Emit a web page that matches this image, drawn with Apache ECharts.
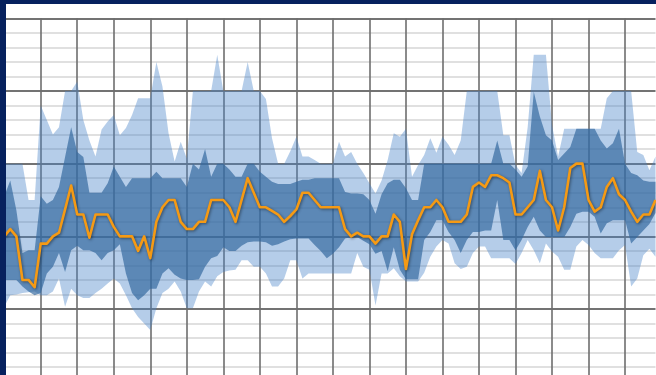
<!DOCTYPE html>
<html>
<head>
<meta charset="utf-8">
<script src="https://cdn.jsdelivr.net/npm/echarts@6/dist/echarts.min.js"></script>
<style>
  html, body { margin: 0; padding: 0; background: #fff; }
  #chart { width: 656px; height: 375px; }
</style>
</head>
<body>
<div id="chart"></div>
<script>
// Sample periods along the horizontal axis (one per observation)
const periods = Array.from({ length: 108 }, (_, i) => String(i + 1));

// Median path
const median = [
  20, 21, 20, 14, 14, 13, 19, 19, 20, 20.5,
  23.7, 27, 23, 23, 19.8, 23, 23, 23, 21.3, 20,
  20, 20, 18, 20, 17, 22, 24, 25, 25, 22,
  21, 21, 22, 22, 25, 25, 25, 24, 22, 25,
  28, 26, 24, 24, 23.5, 23, 22, 22.8, 23.7, 26,
  26, 25, 24, 24, 24, 24, 21, 20, 20.5, 20,
  20, 19, 20, 20, 23, 22, 15.5, 20.3, 22.2, 24,
  24, 25, 24, 22, 22, 22, 23, 26.8, 27.4, 26.8,
  28.4, 28.4, 28, 27.4, 23, 23, 24, 25, 29, 25,
  24, 20.8, 24, 29.4, 30, 30, 25, 23.4, 24, 26.8,
  28, 25.8, 25, 23.4, 22, 23, 23, 25
];

// Outer range (min / max)
const outerHigh = [
  30, 30, 30, 30, 25, 25, 38, 36, 34, 35,
  40, 40, 41.3, 36, 33.2, 31, 34.7, 35.8, 36.7, 33.9,
  34.9, 36.7, 39, 39, 39, 44, 40.6, 34.2, 30.3, 33,
  30.7, 40, 40, 40, 40, 45, 40, 40, 40, 40,
  44, 40, 40, 38.9, 33.5, 30, 30, 31.7, 33.7, 31,
  31, 30.5, 30, 30, 30, 33, 31, 31.6, 30, 28.7,
  27.3, 25.9, 27.7, 30.5, 34.2, 33.7, 34.8, 28.2, 29.8, 31.2,
  33.5, 31.5, 33.7, 32.6, 31.2, 33.2, 40, 40, 40, 40,
  40, 40, 33.9, 33.9, 29.8, 28.7, 35, 45, 45, 45,
  35.3, 31, 34.8, 34.8, 34.8, 34.8, 34.8, 34.8, 34.8, 39,
  40, 40, 40, 40, 31.6, 31.2, 29.1, 31
];
const outerLow = [
  10.3, 11.9, 12, 12.2, 12.3, 12.4, 11.9, 11.9, 12.4, 14.2,
  10.3, 12.8, 11.9, 11.5, 11.5, 12.2, 12.8, 13.5, 14.2, 13.5,
  11.9, 10.1, 8.9, 8, 7.1, 10.1, 12.2, 12.8, 13.8, 12.4,
  10.1, 10.1, 12.4, 13.8, 13.1, 14.5, 15.1, 15.3, 15.4, 16.7,
  16.7, 15.8, 15.8, 14.9, 13.1, 13.1, 14.2, 16.7, 16.7, 14.2,
  14.9, 14.9, 14.9, 14.9, 14.9, 14.9, 14.9, 14.9, 17.7, 15.8,
  15.4, 10.5, 14.9, 14.9, 15.6, 14.5, 13.8, 13.8, 13.8, 15,
  17.2, 18.6, 19.5, 19, 16.3, 15.5, 15.8, 17.7, 18.6, 18.6,
  17, 17, 17, 17, 16.2, 17.7, 19.5, 18.1, 16.3, 19,
  17.9, 17.2, 15.4, 15.4, 18.6, 19.5, 18.8, 17.7, 17, 17,
  17, 18.1, 18.8, 13.1, 14.2, 17.4, 18.3, 17.2
];

// Inner range (quartiles)
const innerHigh = [
  25.5, 27.7, 23.6, 17.7, 18.1, 18.1, 25.5, 24.5, 25, 26.8,
  30.9, 35, 31.6, 30.9, 26, 26, 26, 27.3, 29.6, 28.2,
  26.8, 28, 28, 28, 28, 28.9, 28, 28, 28, 28,
  26.8, 30, 29.2, 32, 28.2, 30, 30, 29.2, 28.2, 28.2,
  30, 30, 28.9, 28.2, 27.5, 27.2, 27.2, 27.2, 27.5, 27.8,
  27.8, 28, 28, 28, 28, 28, 26.1, 25.9, 25.9, 25.8,
  25, 23.1, 25.8, 27.3, 27.8, 27.8, 26.6, 25, 25, 30,
  30, 30, 30, 30, 30, 30, 30, 30, 30, 30,
  30, 33.2, 30, 30, 29.2, 28.2, 29.6, 39.9, 36.5, 33.9,
  33.2, 30.5, 31.4, 32.3, 34.8, 34.8, 34.8, 34.8, 33.2, 32.1,
  32.8, 34.8, 30, 28.7, 28.4, 27.7, 27.5, 27.5
];
const innerLow = [
  14, 14, 14, 13.1, 12.4, 11.9, 12.2, 14.9, 15.8, 17.7,
  15.1, 18.1, 18.7, 18.1, 18.1, 17.7, 16.7, 17.7, 18.1, 18.9,
  14.9, 12.2, 11.2, 11.9, 12.8, 12.8, 14.9, 15.6, 14.7, 14.2,
  14, 14, 14.1, 15.8, 17, 17.3, 18.5, 18, 18, 18.7,
  19.2, 19.3, 19.3, 19.2, 18.7, 18.9, 19.3, 19.6, 19.7, 19.7,
  19.7, 18.8, 18, 17, 17.6, 18.5, 19.7, 19.9, 19.9, 19.4,
  18.9, 17.6, 18, 15.2, 18.5, 15.4, 14.1, 14.1, 14.1, 19.5,
  20.6, 22.2, 22.2, 20.6, 19.5, 17.7, 19.5, 20.6, 20.6, 20.8,
  20.8, 25, 19.5, 19.5, 18.1, 19.5, 21.3, 22.7, 20.8, 19.9,
  19.9, 19.9, 19.9, 21.3, 23.1, 23.4, 23.4, 22.7, 20.4, 21.8,
  22.2, 22.2, 22.2, 19, 19.9, 20.8, 21.7, 23.2
];

// Value axis tick settings
const valueMin = 0;
const valueMax = 50;
const valueStep = 10;

// Band spans are stacked on top of their lower bound
const span = (hi, lo) => hi.map((v, i) => +(v - lo[i]).toFixed(2));

const NAVY = '#06215e';

const chart = echarts.init(document.getElementById('chart'), null, { renderer: 'canvas' });

const hidden = { show: false };
const bandBase = (name, stack, data) => ({
  name, type: 'line', stack, data,
  symbol: 'none', silent: true,
  lineStyle: { width: 0, opacity: 0 },
  z: 2
});

chart.setOption({
  animation: false,
  backgroundColor: '#ffffff',
  grid: {
    left: 4.2, top: 18.3, width: 651.3, height: 363.4,
    containLabel: false, outerBoundsMode: 'none'
  },
  xAxis: {
    type: 'category',
    data: periods,
    boundaryGap: false,
    axisLine: hidden, axisTick: hidden, axisLabel: hidden,
    splitLine: { show: true, interval: 5, lineStyle: { color: '#6e6e6e', width: 1.6 } }
  },
  yAxis: {
    type: 'value',
    min: valueMin, max: valueMax, interval: valueStep,
    axisLine: hidden, axisTick: hidden, axisLabel: hidden,
    splitLine: { show: true, lineStyle: { color: '#444444', width: 1.7 } },
    minorTick: { show: false, splitNumber: 5 },
    minorSplitLine: { show: true, lineStyle: { color: '#d6d6d6', width: 1.6 } }
  },
  series: [
    bandBase('outer-low', 'outer', outerLow),
    Object.assign(bandBase('outer', 'outer', span(outerHigh, outerLow)), {
      areaStyle: { color: 'rgba(70,130,200,0.40)', opacity: 1 }
    }),
    bandBase('inner-low', 'inner', innerLow),
    Object.assign(bandBase('inner', 'inner', span(innerHigh, innerLow)), {
      areaStyle: { color: 'rgba(50,103,158,0.68)', opacity: 1 }, z: 3
    }),
    {
      name: 'median', type: 'line', data: median,
      symbol: 'none', z: 5,
      lineStyle: {
        color: '#f59a14', width: 2.6, join: 'round',
        shadowColor: 'rgba(0,0,0,0.45)', shadowBlur: 3, shadowOffsetX: 1, shadowOffsetY: 1
      }
    }
  ],
  graphic: [
    { type: 'rect', z: 100, shape: { x: 0, y: 0, width: 6, height: 375 }, style: { fill: NAVY } },
    { type: 'rect', z: 100, shape: { x: 0, y: 0, width: 656, height: 4 }, style: { fill: NAVY } }
  ]
});
</script>
</body>
</html>
